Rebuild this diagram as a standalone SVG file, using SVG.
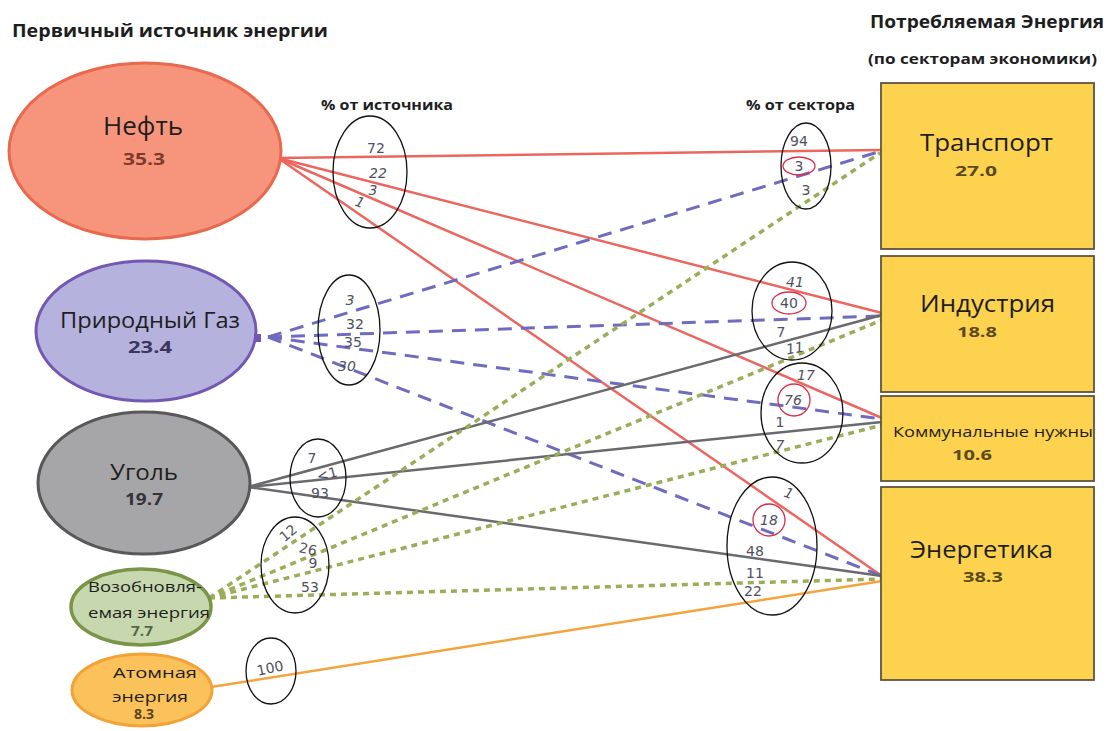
<svg xmlns="http://www.w3.org/2000/svg" width="1109" height="731" viewBox="0 0 1109 731">
<defs>
<style>
.hdr{font-family:"Open Sans","DejaVu Sans",sans-serif;font-weight:bold;fill:#1e1e1e}
.lbl{font-family:"Open Sans","DejaVu Sans",sans-serif;fill:#1e1e1e}
.val{font-family:"Open Sans","DejaVu Sans",sans-serif;font-weight:bold}
.num{font-family:"DejaVu Sans","Open Sans",sans-serif;font-size:14px;fill:#4e5060;text-anchor:middle}
.it{font-style:italic}
.ring{fill:none;stroke:#111;stroke-width:1.3}
.red{fill:none;stroke:#d6304a;stroke-width:1.3}
.oil{stroke:#ec6660;stroke-width:2.5;fill:none}
.gas{stroke:#6f6cc0;stroke-width:3;fill:none;stroke-dasharray:14 9}
.coal{stroke:#6a6a6e;stroke-width:2.5;fill:none}
.ren{stroke:#9aad58;stroke-width:3.5;fill:none;stroke-dasharray:6 5}
.nuc{stroke:#f4a43c;stroke-width:2.5;fill:none}
.box{fill:#fdd24e;stroke:#5e5440;stroke-width:1.8}
</style>
</defs>
<rect width="1109" height="731" fill="#ffffff"/>

<text class="hdr" x="12" y="37" font-size="17" textLength="316" lengthAdjust="spacingAndGlyphs">Первичный источник энергии</text>
<text class="hdr" x="870" y="28" font-size="17" textLength="234" lengthAdjust="spacingAndGlyphs">Потребляемая Энергия</text>
<text class="hdr" x="868" y="64" font-size="14" textLength="229" lengthAdjust="spacingAndGlyphs">(по секторам экономики)</text>
<text class="hdr" x="321" y="110" font-size="14" textLength="132" lengthAdjust="spacingAndGlyphs">% от источника</text>
<text class="hdr" x="746" y="110" font-size="14" textLength="109" lengthAdjust="spacingAndGlyphs">% от сектора</text>

<g id="connectors">
<line class="oil" x1="278" y1="158" x2="882" y2="150"/>
<line class="oil" x1="278" y1="158" x2="882" y2="313"/>
<line class="oil" x1="278" y1="158" x2="882" y2="418"/>
<line class="oil" x1="278" y1="158" x2="882" y2="576"/>
<line class="gas" x1="268" y1="337" x2="878" y2="152"/>
<line class="gas" x1="268" y1="337" x2="882" y2="316"/>
<line class="gas" x1="268" y1="337" x2="882" y2="419"/>
<line class="gas" x1="268" y1="337" x2="882" y2="576"/>
<line class="coal" x1="248" y1="487" x2="882" y2="315"/>
<line class="coal" x1="248" y1="487" x2="882" y2="422"/>
<line class="coal" x1="248" y1="487" x2="882" y2="576"/>
<line class="ren" x1="209" y1="598" x2="880" y2="153"/>
<line class="ren" x1="209" y1="598" x2="882" y2="320"/>
<line class="ren" x1="209" y1="598" x2="882" y2="425"/>
<line class="ren" x1="209" y1="598" x2="882" y2="579"/>
<line class="nuc" x1="211" y1="687" x2="882" y2="581"/>
</g>

<g id="oil">
<ellipse cx="145" cy="151" rx="136" ry="88" fill="#f6957c" stroke="#e8694e" stroke-width="3"/>
<text class="lbl" x="103" y="135" font-size="26" textLength="80" lengthAdjust="spacingAndGlyphs">Нефть</text>
<text class="val" x="123" y="165" font-size="16" fill="#7a3a2c" textLength="42" lengthAdjust="spacingAndGlyphs">35.3</text>
</g>
<g id="gas">
<ellipse cx="146" cy="331" rx="110" ry="70" fill="#b5b2de" stroke="#7457b2" stroke-width="3"/>
<rect x="254" y="334" width="7" height="8" fill="#7457b2"/>
<text class="lbl" x="60" y="328" font-size="21" textLength="180" lengthAdjust="spacingAndGlyphs">Природный Газ</text>
<text class="val" x="128" y="353" font-size="16" fill="#3a3560" textLength="44" lengthAdjust="spacingAndGlyphs">23.4</text>
</g>
<g id="coal">
<ellipse cx="144" cy="483" rx="106" ry="71" fill="#a6a6a8" stroke="#58585a" stroke-width="3"/>
<text class="lbl" x="110" y="480" font-size="22" textLength="68" lengthAdjust="spacingAndGlyphs">Уголь</text>
<text class="val" x="125" y="505" font-size="16" fill="#333338" textLength="38" lengthAdjust="spacingAndGlyphs">19.7</text>
</g>
<g id="renewable">
<ellipse cx="141" cy="607" rx="70" ry="38" fill="#c8d8ae" stroke="#7a9448" stroke-width="3.5"/>
<text class="lbl" x="88" y="592" font-size="15" textLength="114" lengthAdjust="spacingAndGlyphs">Возобновля-</text>
<text class="lbl" x="88" y="618" font-size="15" textLength="122" lengthAdjust="spacingAndGlyphs">емая энергия</text>
<text class="val" x="131" y="636" font-size="14" fill="#5b6448" textLength="22" lengthAdjust="spacingAndGlyphs">7.7</text>
</g>
<g id="nuclear">
<ellipse cx="142" cy="690" rx="70" ry="36" fill="#fbc25c" stroke="#f2a236" stroke-width="3"/>
<text class="lbl" x="113" y="678" font-size="15" textLength="84" lengthAdjust="spacingAndGlyphs">Атомная</text>
<text class="lbl" x="112" y="702" font-size="15" textLength="76" lengthAdjust="spacingAndGlyphs">энергия</text>
<text class="val" x="134" y="719" font-size="14" fill="#5a4520" textLength="20" lengthAdjust="spacingAndGlyphs">8.3</text>
</g>

<g id="transport">
<rect class="box" x="881" y="83" width="213" height="166"/>
<text class="lbl" x="920" y="151" font-size="24" textLength="133" lengthAdjust="spacingAndGlyphs">Транспорт</text>
<text class="val" x="955" y="176" font-size="15" fill="#5a4a22" textLength="42" lengthAdjust="spacingAndGlyphs">27.0</text>
</g>
<g id="industry">
<rect class="box" x="881" y="256" width="213" height="136"/>
<text class="lbl" x="920" y="312" font-size="24" textLength="135" lengthAdjust="spacingAndGlyphs">Индустрия</text>
<text class="val" x="957" y="337" font-size="15" fill="#5a4a22" textLength="40" lengthAdjust="spacingAndGlyphs">18.8</text>
</g>
<g id="communal">
<rect class="box" x="881" y="396" width="213" height="85"/>
<text class="lbl" x="893" y="437" font-size="15" textLength="200" lengthAdjust="spacingAndGlyphs">Коммунальные нужны</text>
<text class="val" x="952" y="460" font-size="15" fill="#5a4a22" textLength="40" lengthAdjust="spacingAndGlyphs">10.6</text>
</g>
<g id="energy">
<rect class="box" x="881" y="487" width="213" height="193"/>
<text class="lbl" x="910" y="558" font-size="24" textLength="143" lengthAdjust="spacingAndGlyphs">Энергетика</text>
<text class="val" x="963" y="582" font-size="15" fill="#5a4a22" textLength="40" lengthAdjust="spacingAndGlyphs">38.3</text>
</g>

<g id="src-oil-pct">
<ellipse class="ring" cx="370" cy="172" rx="37" ry="56"/>
<text class="num" x="376" y="153">72</text>
<text class="num it" x="378" y="178">22</text>
<text class="num it" x="373" y="195">3</text>
<text class="num it" x="360" y="207" transform="rotate(20 360 202)">1</text>
</g>
<g id="src-gas-pct">
<ellipse class="ring" cx="349" cy="330" rx="31" ry="55"/>
<text class="num it" x="350" y="305">3</text>
<text class="num" x="355" y="329">32</text>
<text class="num" x="353" y="347">35</text>
<text class="num it" x="347" y="371">30</text>
</g>
<g id="src-coal-pct">
<ellipse class="ring" cx="318" cy="478" rx="28" ry="39"/>
<text class="num" x="312" y="463">7</text>
<text class="num" x="327" y="479" transform="rotate(-15 327 474)">&lt;1</text>
<text class="num" x="320" y="498">93</text>
</g>
<g id="src-ren-pct">
<ellipse class="ring" cx="295" cy="565" rx="34" ry="48"/>
<text class="num" x="288" y="538" transform="rotate(-40 288 533)">12</text>
<text class="num" x="308" y="554" transform="rotate(12 308 549)">26</text>
<text class="num" x="313" y="568">9</text>
<text class="num" x="310" y="592">53</text>
</g>
<g id="src-nuc-pct">
<ellipse class="ring" cx="271" cy="671" rx="25" ry="33"/>
<text class="num" x="270" y="673" transform="rotate(-12 270 668)">100</text>
</g>

<g id="sec-transport-pct">
<ellipse class="ring" cx="806" cy="166" rx="25" ry="43"/>
<text class="num" x="799" y="146">94</text>
<ellipse class="red" cx="799" cy="166" rx="16" ry="9"/>
<text class="num" x="799" y="171">3</text>
<text class="num" x="806" y="195">3</text>
</g>
<g id="sec-industry-pct">
<ellipse class="ring" cx="792" cy="311" rx="40" ry="49"/>
<text class="num it" x="795" y="287">41</text>
<ellipse class="red" cx="789" cy="303" rx="17" ry="11"/>
<text class="num" x="789" y="308">40</text>
<text class="num" x="781" y="337">7</text>
<text class="num it" x="795" y="353" transform="rotate(-10 795 348)">11</text>
</g>
<g id="sec-communal-pct">
<ellipse class="ring" cx="802" cy="413" rx="41" ry="50"/>
<text class="num it" x="806" y="380">17</text>
<circle class="red" cx="794" cy="400" r="16"/>
<text class="num it" x="793" y="405">76</text>
<text class="num" x="780" y="427">1</text>
<text class="num it" x="780" y="450">7</text>
</g>
<g id="sec-energy-pct">
<ellipse class="ring" cx="772" cy="546" rx="45" ry="69"/>
<text class="num it" x="789" y="498" transform="rotate(20 789 493)">1</text>
<circle class="red" cx="769" cy="520" r="16"/>
<text class="num it" x="769" y="525">18</text>
<text class="num" x="755" y="556">48</text>
<text class="num" x="755" y="578">11</text>
<text class="num" x="753" y="596">22</text>
</g>
</svg>
